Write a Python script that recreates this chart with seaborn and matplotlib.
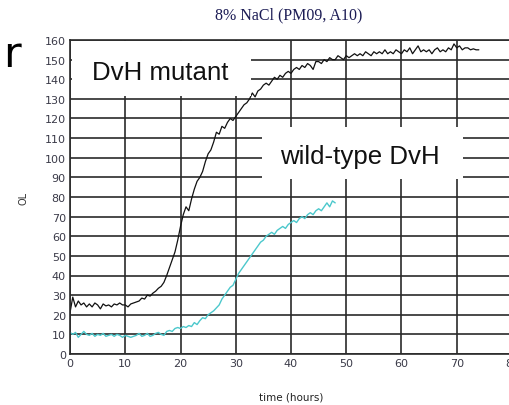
import numpy as np
import pandas as pd
import matplotlib
matplotlib.use("Agg")
import matplotlib.pyplot as plt
from matplotlib.patches import Rectangle
import seaborn as sns

# ---- data ----
mutant_ol = [21, 29, 24, 27, 25, 26, 24, 25.5, 24, 26, 25, 23, 25.5, 24.5, 25, 24, 25.5, 25, 26, 25,
             25, 24, 25.5, 26, 26.5, 27, 28.5, 28, 30, 29.5, 31, 32, 33.5, 34.5, 36.5, 40, 44, 48, 52, 58,
             65, 71, 75, 73, 79, 84, 88, 90, 93, 98, 102, 104, 108, 113, 112, 116, 115, 118, 120, 119,
             121, 123, 125, 127, 128, 130, 133, 131, 134, 135, 137, 138, 137, 139, 141, 140, 142, 141, 143, 144,
             143, 145, 146, 145, 147, 146, 148, 147, 145, 149, 149, 148, 150, 149, 151, 150, 150, 152, 151, 150,
             152, 151, 152, 153, 152, 153, 152, 154, 153, 152, 154, 153, 154, 153, 155, 153, 154, 153, 155, 154,
             153, 155, 154, 156, 153, 155, 157, 154, 155, 154, 155, 153, 155, 156, 154, 155, 154, 156, 155, 158,
             156, 157, 155, 156, 156, 155, 155.5, 155, 155]
wildtype_ol = [11, 10, 11, 8.5, 10, 11.5, 10, 9.5, 10.5, 9, 10, 9.5, 10.5, 9, 9.5, 10, 9, 10, 9.5, 8.5,
               9.5, 9, 8.5, 9, 9.5, 10.5, 9, 9.5, 10.5, 9, 9.5, 10.5, 11, 10, 9.5, 11.5, 12, 11.5, 13, 13.5,
               13, 14, 13.5, 14.5, 14, 16, 15, 17, 18.5, 18, 20, 21, 22, 23.5, 25, 28, 30, 32, 34, 35,
               38, 41, 43, 45, 47, 49, 51, 53, 55, 57, 58, 60, 61, 62, 61, 63, 64, 65, 64, 66,
               67, 68, 67, 69, 70, 69, 71, 72, 71, 73, 74, 73, 75, 77, 75, 78, 77]
sample_step_hours = 0.5

x_ticks = [0, 10, 20, 30, 40, 50, 60, 70, 80]
y_ticks = [0, 10, 20, 30, 40, 50, 60, 70, 80, 90, 100, 110, 120, 130, 140, 150, 160]

title_text = "8% NaCl (PM09, A10)"
label_mutant = "DvH mutant"
label_wild = "wild-type DvH"

df_m = pd.DataFrame({"time": np.arange(len(mutant_ol)) * sample_step_hours, "OL": mutant_ol})
df_w = pd.DataFrame({"time": np.arange(len(wildtype_ol)) * sample_step_hours, "OL": wildtype_ol})

sns.set_theme(style="white")
plt.rcParams["font.family"] = ["DejaVu Sans"]

fig = plt.figure(figsize=(5.10, 4.06), dpi=100)
fig.patch.set_facecolor("white")
ax = fig.add_axes([70 / 510, 1 - 355 / 406, 442 / 510, 314 / 406])

sns.lineplot(data=df_m, x="time", y="OL", ax=ax, color="#111111", linewidth=0.9, zorder=3)
sns.lineplot(data=df_w, x="time", y="OL", ax=ax, color="#4cc8cc", linewidth=1.0, zorder=3)

ax.set_xlim(0, 80)
ax.set_ylim(0, 160)
ax.set_xticks(x_ticks)
ax.set_yticks(y_ticks)
ax.grid(True, color="#2a2a2a", linewidth=1.2, zorder=1)
ax.set_axisbelow(True)
for s in ax.spines.values():
    s.set_color("#2a2a2a")
    s.set_linewidth(1.2)
    s.set_zorder(5)
ax.tick_params(axis="both", labelsize=8, colors="#3a3a48", length=3, width=0.8, direction="in", pad=3)
ax.set_xlabel("time (hours)", fontsize=7.5, color="#222222", labelpad=17)
ax.set_ylabel("OL", fontsize=7, color="#333333", labelpad=12)

fig.text(289 / 510, 1 - 15 / 406, title_text, ha="center", va="center",
         family="Liberation Serif", fontsize=11.5, color="#1c1c55")
fig.text(3 / 510, 1 - 55 / 406, "r", ha="left", va="center", fontsize=31, color="black")

# label boxes
ax.add_patch(Rectangle((0.35, 131.5), 32.5, 27.8, facecolor="white", edgecolor="none", zorder=4))
ax.text(16.3, 143.5, label_mutant, ha="center", va="center", family="Liberation Sans",
        fontsize=18.6, color="#111111", zorder=6)
ax.add_patch(Rectangle((34.75, 89.2), 36.35, 26.5, facecolor="white", edgecolor="none", zorder=4))
ax.text(52.5, 100.8, label_wild, ha="center", va="center", family="Liberation Sans",
        fontsize=18.6, color="#111111", zorder=6)

fig.savefig("out.png", dpi=100, facecolor="white")
